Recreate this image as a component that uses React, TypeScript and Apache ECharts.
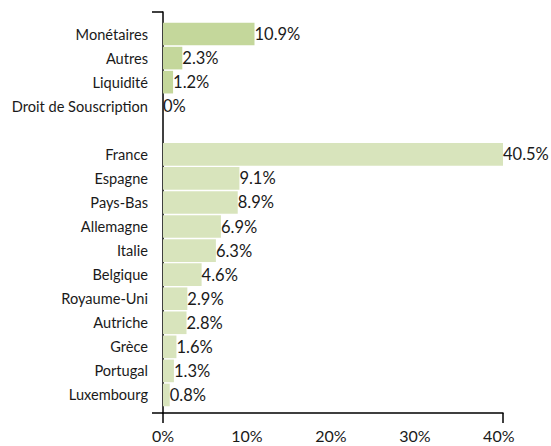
import React, { useEffect, useRef } from "react";
import * as echarts from "echarts";

const assetCategories = ["Monétaires", "Autres", "Liquidité", "Droit de Souscription"];
const assetValues = [10.9, 2.3, 1.2, 0];
const countryCategories = [
  "France", "Espagne", "Pays-Bas", "Allemagne", "Italie", "Belgique",
  "Royaume-Uni", "Autriche", "Grèce", "Portugal", "Luxembourg",
];
const countryValues = [40.5, 9.1, 8.9, 6.9, 6.3, 4.6, 2.9, 2.8, 1.6, 1.3, 0.8];
const xTickValues = [0, 10, 20, 30, 40];
const X_MAX = 40.5;

const ASSET_COLOR = "#c4d79b";
const COUNTRY_COLOR = "#d8e4bc";
const TEXT = "#1a1a1a";
const FONT = "Lato";

export default function App() {
  const ref = useRef<HTMLDivElement>(null);
  useEffect(() => {
    if (!ref.current) return;
    const chart = echarts.init(ref.current, undefined, { renderer: "svg" });
    const categories = [...assetCategories, "", ...countryCategories];
    const data: any[] = [
      ...assetValues.map((v) => ({ value: v, itemStyle: { color: ASSET_COLOR } })),
      { value: null },
      ...countryValues.map((v) => ({ value: v, itemStyle: { color: COUNTRY_COLOR } })),
    ];
    chart.setOption({
      animation: false,
      textStyle: { fontFamily: FONT },
      grid: [
        { left: 163, top: 22, width: 340, height: 385 },
        { left: 163, top: 12, width: 340, height: 401 },
      ],
      xAxis: [
        {
          gridIndex: 0, type: "value", min: 0, max: X_MAX, show: false,
        },
        {
          gridIndex: 1, type: "value", min: 0, max: X_MAX, position: "bottom",
          axisLine: { show: true, lineStyle: { color: "#000", width: 1.5 } },
          axisTick: { show: true, length: 10, customValues: [0, X_MAX], lineStyle: { color: "#000", width: 1.5 } },
          axisLabel: {
            customValues: xTickValues, formatter: "{value}%", margin: 14,
            fontSize: 16, color: TEXT, fontFamily: FONT,
          },
          splitLine: { show: false },
        },
      ],
      yAxis: [
        {
          gridIndex: 0, type: "category", data: categories, inverse: true,
          axisLine: { show: false }, axisTick: { show: false },
          axisLabel: { margin: 15, fontSize: 14.6, color: TEXT, fontFamily: FONT },
        },
        {
          gridIndex: 1, type: "value", min: 0, max: 1, offset: 7, position: "left",
          axisLine: { show: true, lineStyle: { color: "#000", width: 1.5 } },
          axisTick: { show: true, length: 11, customValues: [0, 1], lineStyle: { color: "#000", width: 1.5 } },
          axisLabel: { show: false },
          splitLine: { show: false },
        },
      ],
      series: [
        {
          type: "bar", xAxisIndex: 0, yAxisIndex: 0, data,
          barCategoryGap: "6%",
          label: {
            show: true, position: "right", distance: 0,
            formatter: (p: any) => (p.value == null ? "" : `${p.value}%`),
            fontSize: 16.5, color: TEXT, fontFamily: FONT,
          },
        },
      ],
    });
    return () => chart.dispose();
  }, []);
  return (
    <div
      ref={ref}
      style={{ position: "absolute", left: 0, top: 0, width: 551, height: 446 }}
    />
  );
}
